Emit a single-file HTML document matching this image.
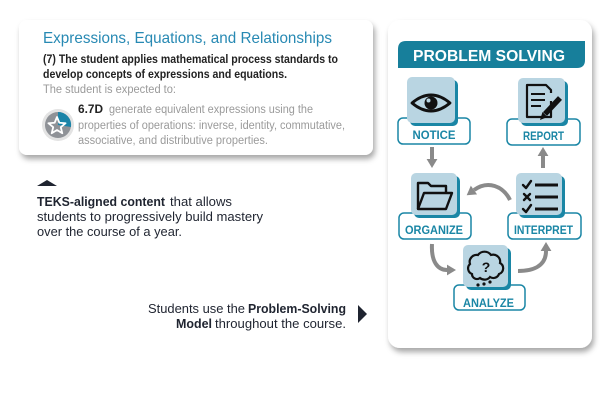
<!DOCTYPE html>
<html>
<head>
<meta charset="utf-8">
<style>
  html,body{margin:0;padding:0;background:#fff;}
  body{width:600px;height:400px;overflow:hidden;}
  svg{display:block;}
  text{font-family:"Liberation Sans",sans-serif;}
</style>
</head>
<body>
<svg width="600" height="400" viewBox="0 0 600 400" xmlns="http://www.w3.org/2000/svg">
  <defs>
    <filter id="sh" x="-10%" y="-10%" width="125%" height="130%">
      <feDropShadow dx="2" dy="4" stdDeviation="3" flood-color="#000" flood-opacity="0.35"/>
    </filter>
    <marker id="ah" viewBox="0 0 10 12" refX="0" refY="6" markerWidth="9" markerHeight="12" markerUnits="userSpaceOnUse" orient="auto">
      <path d="M0,0 L10,6 L0,12 z" fill="#8a8a8a"/>
    </marker>
  </defs>

  <!-- LEFT CARD -->
  <rect x="19" y="20" width="354" height="135" rx="8" fill="#fff" filter="url(#sh)"/>
  <text x="43" y="43" font-size="16" fill="#2789b3" textLength="289" lengthAdjust="spacingAndGlyphs">Expressions, Equations, and Relationships</text>
  <text x="43" y="63" font-size="11.5" font-weight="bold" fill="#222" textLength="295" lengthAdjust="spacingAndGlyphs">(7) The student applies mathematical process standards to</text>
  <text x="43" y="78" font-size="11.5" font-weight="bold" fill="#222" textLength="244" lengthAdjust="spacingAndGlyphs">develop concepts of expressions and equations.</text>
  <text x="43" y="93" font-size="11.5" fill="#9a9a9a" textLength="133" lengthAdjust="spacingAndGlyphs">The student is expected to:</text>

  <!-- star badge -->
  <circle cx="58" cy="125" r="16" fill="#e3e3e3"/>
  <circle cx="58" cy="125" r="13" fill="#8f9297"/>
  <path d="M58,125 L58,112 A13,13 0 0,1 71,127 Z" fill="#1b84a8"/>
  <polygon points="57,117 59.35,122.76 65.56,123.22 60.80,127.24 62.29,133.28 57,130 51.71,133.28 53.20,127.24 48.44,123.22 54.65,122.76" fill="none" stroke="#fff" stroke-width="1.8" stroke-linejoin="round"/>

  <text x="78" y="113" font-size="11.5" font-weight="bold" fill="#222" textLength="25" lengthAdjust="spacingAndGlyphs">6.7D</text>
  <text x="109" y="113" font-size="11.5" fill="#9a9a9a" textLength="204" lengthAdjust="spacingAndGlyphs">generate equivalent expressions using the</text>
  <text x="78" y="129" font-size="11.5" fill="#9a9a9a" textLength="267" lengthAdjust="spacingAndGlyphs">properties of operations: inverse, identity, commutative,</text>
  <text x="78" y="144" font-size="11.5" fill="#9a9a9a" textLength="190" lengthAdjust="spacingAndGlyphs">associative, and distributive properties.</text>

  <!-- left caption -->
  <polygon points="37,186 57,186 47,180" fill="#1f2430"/>
  <text x="37" y="206" font-size="13" font-weight="bold" fill="#1f2430" textLength="128" lengthAdjust="spacingAndGlyphs">TEKS-aligned content</text>
  <text x="170" y="206" font-size="13" fill="#1f2430" textLength="62" lengthAdjust="spacingAndGlyphs">that allows</text>
  <text x="37" y="221" font-size="13" fill="#1f2430" textLength="226" lengthAdjust="spacingAndGlyphs">students to progressively build mastery</text>
  <text x="37" y="236" font-size="13" fill="#1f2430" textLength="145" lengthAdjust="spacingAndGlyphs">over the course of a year.</text>

  <!-- bottom caption -->
  <text x="148" y="313" font-size="13" fill="#1f2430" textLength="97" lengthAdjust="spacingAndGlyphs">Students use the</text>
  <text x="248" y="313" font-size="13" font-weight="bold" fill="#1f2430" textLength="98" lengthAdjust="spacingAndGlyphs">Problem-Solving</text>
  <text x="176" y="328" font-size="13" font-weight="bold" fill="#1f2430" textLength="36" lengthAdjust="spacingAndGlyphs">Model</text>
  <text x="215" y="328" font-size="13" fill="#1f2430" textLength="131" lengthAdjust="spacingAndGlyphs">throughout the course.</text>
  <polygon points="358,305 358,323 367,314" fill="#1f2430"/>

  <!-- RIGHT CARD -->
  <rect x="388" y="20" width="204" height="328" rx="12" fill="#fff" filter="url(#sh)"/>
  <path d="M406,41 H585 V60 Q585,68 577,68 H398 V49 Q398,41 406,41 Z" fill="#177f9b"/>
  <text x="489" y="61" font-size="16" font-weight="bold" fill="#fff" text-anchor="middle" textLength="152" lengthAdjust="spacingAndGlyphs">PROBLEM SOLVING</text>

  <!-- arrows -->
  <g stroke="#8a8a8a" stroke-width="4" fill="none" marker-end="url(#ah)">
    <path d="M432,147 L432,159"/>
    <path d="M543,168 L543,156"/>
    <path d="M510,200 C503,186 488,180 474,190"/>
    <path d="M432,244 C431,262 438,270 447,270"/>
    <path d="M518,271 C535,271 546,265 546,251"/>
  </g>

  <!-- NOTICE -->
  <rect x="398" y="118" width="72" height="26" rx="5" fill="#fff" stroke="#1a86a5" stroke-width="1.5"/>
  <rect x="410" y="80" width="48" height="46" rx="5" fill="#1a86a5"/>
  <rect x="407" y="77" width="48" height="46" rx="5" fill="#b9d5e2"/>
  <text x="434" y="139" font-size="12" font-weight="bold" fill="#1a86a5" text-anchor="middle" textLength="43" lengthAdjust="spacingAndGlyphs">NOTICE</text>
  <path d="M412,103 Q431,87 450,103 Q431,119 412,103 Z" fill="none" stroke="#111" stroke-width="2.8" stroke-linejoin="round"/>
  <circle cx="431" cy="103" r="6.5" fill="#111"/>
  <circle cx="428.5" cy="100.5" r="2" fill="#b9d5e2"/>

  <!-- REPORT -->
  <rect x="507" y="119" width="73" height="26" rx="5" fill="#fff" stroke="#1a86a5" stroke-width="1.5"/>
  <rect x="521" y="81" width="47" height="45" rx="5" fill="#1a86a5"/>
  <rect x="518" y="78" width="47" height="45" rx="5" fill="#b9d5e2"/>
  <text x="543.5" y="140" font-size="12" font-weight="bold" fill="#1a86a5" text-anchor="middle" textLength="41" lengthAdjust="spacingAndGlyphs">REPORT</text>
  <path d="M551,101 V117 H527 V85 H546 L551,90 V93" fill="none" stroke="#111" stroke-width="2.2" stroke-linejoin="round"/>
  <g stroke="#111" stroke-width="2">
    <line x1="531" y1="94" x2="545" y2="94"/>
    <line x1="531" y1="100" x2="545" y2="100"/>
    <line x1="531" y1="106" x2="541" y2="106"/>
  </g>
  <line x1="560" y1="98" x2="545" y2="114" stroke="#111" stroke-width="5.5"/>
  <path d="M542.5,112 L547.5,117 L540,120 Z" fill="#111"/>

  <!-- ORGANIZE -->
  <rect x="399" y="213" width="72" height="26" rx="5" fill="#fff" stroke="#1a86a5" stroke-width="1.5"/>
  <rect x="414" y="176" width="46" height="42" rx="5" fill="#1a86a5"/>
  <rect x="411" y="173" width="46" height="42" rx="5" fill="#b9d5e2"/>
  <text x="434" y="234" font-size="12" font-weight="bold" fill="#1a86a5" text-anchor="middle" textLength="58" lengthAdjust="spacingAndGlyphs">ORGANIZE</text>
  <path d="M418,209 V183 H428 L431,186 H446 V192" fill="none" stroke="#111" stroke-width="2.4" stroke-linejoin="round"/>
  <path d="M418,209 L424,193 H452 L446,209 Z" fill="none" stroke="#111" stroke-width="2.4" stroke-linejoin="round"/>

  <!-- INTERPRET -->
  <rect x="508" y="213" width="73" height="26" rx="5" fill="#fff" stroke="#1a86a5" stroke-width="1.5"/>
  <rect x="519" y="176" width="46" height="42" rx="5" fill="#1a86a5"/>
  <rect x="516" y="173" width="46" height="42" rx="5" fill="#b9d5e2"/>
  <text x="543.5" y="234" font-size="12" font-weight="bold" fill="#1a86a5" text-anchor="middle" textLength="59" lengthAdjust="spacingAndGlyphs">INTERPRET</text>
  <g stroke="#111" stroke-width="2.4" fill="none" stroke-linecap="round" stroke-linejoin="round">
    <path d="M523,185 L526,188 L531,181"/>
    <path d="M524,194 L530,200 M530,194 L524,200"/>
    <path d="M523,209 L526,212 L531,205"/>
  </g>
  <g stroke="#111" stroke-width="3">
    <line x1="535" y1="185" x2="558" y2="185"/>
    <line x1="535" y1="197" x2="558" y2="197"/>
    <line x1="535" y1="209" x2="558" y2="209"/>
  </g>

  <!-- ANALYZE -->
  <rect x="454" y="285" width="71" height="25" rx="5" fill="#fff" stroke="#1a86a5" stroke-width="1.5"/>
  <rect x="466" y="248" width="45" height="42" rx="5" fill="#1a86a5"/>
  <rect x="463" y="245" width="45" height="42" rx="5" fill="#b9d5e2"/>
  <text x="488.5" y="307" font-size="12" font-weight="bold" fill="#1a86a5" text-anchor="middle" textLength="51" lengthAdjust="spacingAndGlyphs">ANALYZE</text>
  <path d="M472,274 A6,6 0 0 1 470,264 A7,7 0 0 1 478,255 A8,8 0 0 1 491,255 A7,7 0 0 1 500,263 A6,6 0 0 1 499,274 A6,6 0 0 1 490,277 A7,7 0 0 1 480,278 A5,5 0 0 1 472,274 Z" fill="none" stroke="#111" stroke-width="2.2"/>
  <text x="486" y="272" font-size="14" font-weight="bold" fill="#111" text-anchor="middle">?</text>
  <circle cx="478" cy="285" r="1.6" fill="#111"/>
  <circle cx="484" cy="284" r="1.6" fill="#111"/>
  <circle cx="490" cy="282" r="1.6" fill="#111"/>
</svg>
</body>
</html>
